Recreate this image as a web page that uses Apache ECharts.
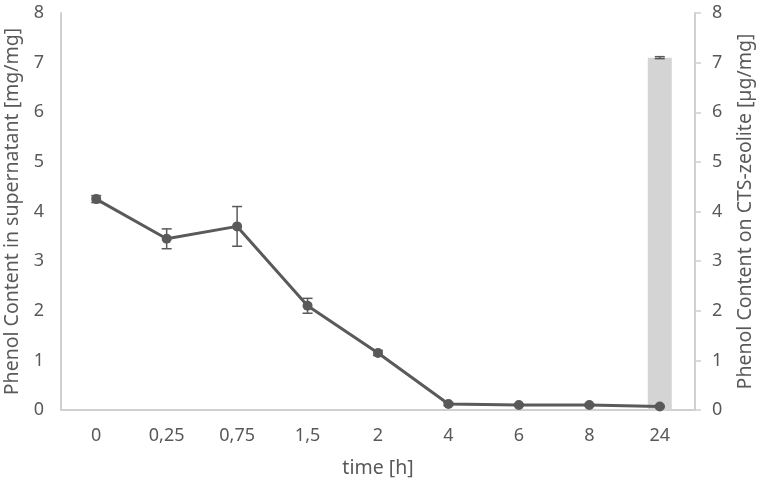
<!DOCTYPE html>
<html><head><meta charset="utf-8">
<script src="https://cdn.jsdelivr.net/npm/echarts@6/dist/echarts.min.js"></script>
<style>html,body{margin:0;padding:0;background:#fff}#c{width:760px;height:486px}</style>
</head><body><div id="c"></div>
<script>
var categories = ['0','0,25','0,75','1,5','2','4','6','8','24'];
var supernatant = [4.25, 3.45, 3.7, 2.1, 1.15, 0.12, 0.1, 0.1, 0.07];
var supernatantErr = [0.07, 0.2, 0.4, 0.15, 0.05, 0.03, 0.02, 0.02, 0.02];
var zeolite = [null, null, null, null, null, null, null, null, 7.1];
var zeoliteErr = [null, null, null, null, null, null, null, null, 0.02];
var yTicks = [0,1,2,3,4,5,6,7,8];

var FONT = "'Noto Sans','Open Sans',sans-serif";
var TXT = '#595959';

function errItems(vals, errs){
  var out = [];
  for (var i=0;i<vals.length;i++){ if(vals[i]!=null && errs[i]!=null) out.push([i, vals[i]-errs[i], vals[i]+errs[i]]); }
  return out;
}
function errRender(params, api){
  var x = api.value(0), lo = api.coord([x, api.value(1)]), hi = api.coord([x, api.value(2)]);
  var hw = 5, st = {stroke:'#595959', lineWidth:1.5};
  return {type:'group', children:[
    {type:'line', shape:{x1:lo[0],y1:lo[1],x2:hi[0],y2:hi[1]}, style:st},
    {type:'line', shape:{x1:lo[0]-hw,y1:lo[1],x2:lo[0]+hw,y2:lo[1]}, style:st},
    {type:'line', shape:{x1:hi[0]-hw,y1:hi[1],x2:hi[0]+hw,y2:hi[1]}, style:st}
  ]};
}

var chart = echarts.init(document.getElementById('c'));
chart.setOption({
  animation:false,
  grid:{left:61,right:65,top:13,bottom:76,containLabel:false,outerBoundsMode:'none'},
  xAxis:{type:'category',data:categories,
    name:'time [h]',nameLocation:'middle',nameGap:48,
    nameTextStyle:{color:TXT,fontSize:19.5,fontFamily:FONT},
    axisLine:{lineStyle:{color:'#d0d0d0',width:2}},
    axisTick:{show:false},
    axisLabel:{color:TXT,fontSize:18,fontFamily:FONT,margin:17}},
  yAxis:[
    {type:'value',min:0,max:8,interval:1,
     name:'Phenol Content in supernatant [mg/mg]',nameLocation:'middle',nameGap:36,nameRotate:90,
     nameTextStyle:{color:TXT,fontSize:19.5,fontFamily:FONT},
     axisLine:{show:true,lineStyle:{color:'#d0d0d0',width:2}},axisTick:{show:false},
     splitLine:{show:false},
     axisLabel:{color:TXT,fontSize:18,fontFamily:FONT,margin:17}},
    {type:'value',min:0,max:8,interval:1,position:'right',
     name:'Phenol Content on CTS-zeolite [µg/mg]',nameLocation:'middle',nameGap:40,nameRotate:90,
     nameTextStyle:{color:TXT,fontSize:19.5,fontFamily:FONT},
     axisLine:{show:true,lineStyle:{color:'#d0d0d0',width:2}},
     axisTick:{show:true,length:6,lineStyle:{color:'#d0d0d0',width:1.5}},
     splitLine:{show:false},
     axisLabel:{color:TXT,fontSize:18,fontFamily:FONT,margin:17}}
  ],
  series:[
    {type:'bar',yAxisIndex:1,data:zeolite,barWidth:24,itemStyle:{color:'#d4d4d4'},z:1},
    {type:'custom',yAxisIndex:1,data:errItems(zeolite,zeoliteErr),renderItem:errRender,z:2},
    {type:'line',yAxisIndex:0,data:supernatant,symbol:'circle',symbolSize:10,
     lineStyle:{color:'#5a5a5a',width:3},itemStyle:{color:'#5a5a5a'},z:3},
    {type:'custom',yAxisIndex:0,data:errItems(supernatant,supernatantErr),renderItem:errRender,z:4}
  ]
});
</script></body></html>
